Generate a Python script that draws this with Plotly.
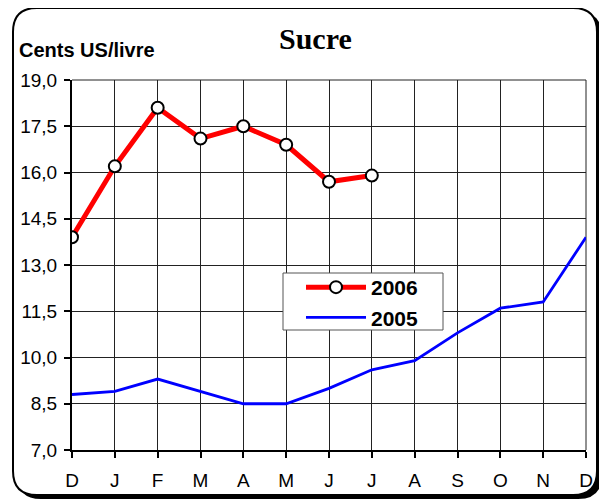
import plotly.graph_objects as go

months = ["D", "J", "F", "M", "A", "M", "J", "J", "A", "S", "O", "N", "D"]
s2006 = [13.9, 16.2, 18.1, 17.1, 17.5, 16.9, 15.7, 15.9]
s2005 = [8.8, 8.9, 9.3, 8.9, 8.5, 8.5, 9.0, 9.6, 9.9, 10.8, 11.6, 11.8, 13.9]
yticks = [7.0, 8.5, 10.0, 11.5, 13.0, 14.5, 16.0, 17.5, 19.0]

# page is offset by the default 8px body margin
OFF = 8
W, H = 607 - OFF, 501 - OFF
PL, PR, PT, PB = 72, 586, 80, 450  # plot-area edges in page pixels
L, R, T, B = PL - OFF, W - (PR - OFF), PT - OFF, H - (PB - OFF)
PW, PH = PR - PL, PB - PT

def px(x):
    return (x - PL) / PW

def py(y):
    return (PB - y) / PH

def rrect(x0, y0, x1, y1, r):
    pts = [
        f"M {px(x0 + r)} {py(y0)}",
        f"L {px(x1 - r)} {py(y0)}",
        f"Q {px(x1)} {py(y0)} {px(x1)} {py(y0 + r)}",
        f"L {px(x1)} {py(y1 - r)}",
        f"Q {px(x1)} {py(y1)} {px(x1 - r)} {py(y1)}",
        f"L {px(x0 + r)} {py(y1)}",
        f"Q {px(x0)} {py(y1)} {px(x0)} {py(y1 - r)}",
        f"L {px(x0)} {py(y0 + r)}",
        f"Q {px(x0)} {py(y0)} {px(x0 + r)} {py(y0)}",
        "Z",
    ]
    return " ".join(pts)

fig = go.Figure()
fig.add_trace(go.Scatter(
    x=list(range(len(s2006))), y=s2006, name="2006", mode="lines+markers",
    line=dict(color="#ff0000", width=5),
    marker=dict(symbol="circle", size=12, color="white", line=dict(color="black", width=2)),
))
fig.add_trace(go.Scatter(
    x=list(range(len(s2005))), y=s2005, name="2005", mode="lines",
    line=dict(color="#0000ff", width=2.8),
))

fig.update_layout(
    width=W, height=H,
    margin=dict(l=L, r=R, t=T, b=B, pad=0, autoexpand=False),
    paper_bgcolor="white",
    plot_bgcolor="rgba(0,0,0,0)",
    separators=",.",
    font=dict(family="Liberation Sans, Arial, sans-serif", size=19, color="black"),
    showlegend=True,
    legend=dict(
        x=px(301), y=py(267), xanchor="left", yanchor="top",
        bgcolor="rgba(0,0,0,0)", borderwidth=0,
        font=dict(family="Liberation Sans, Arial, sans-serif", size=21, color="black", weight="bold"),
        itemwidth=60, tracegroupgap=0,
    ),
    xaxis=dict(
        range=[0, 12], tickmode="array", tickvals=list(range(13)), ticktext=months,
        showgrid=True, gridcolor="#222222", gridwidth=1,
        showline=True, linecolor="black", linewidth=2,
        ticks="outside", ticklen=6, tickwidth=2, tickcolor="black",
        ticklabelstandoff=6, automargin=False,
        zeroline=False, fixedrange=True,
    ),
    yaxis=dict(
        range=[7, 19], tickmode="array", tickvals=yticks,
        tickformat=".1f",
        showgrid=True, gridcolor="#222222", gridwidth=1,
        showline=True, linecolor="black", linewidth=2,
        ticks="outside", ticklen=6, tickwidth=2, tickcolor="black",
        ticklabelstandoff=3, automargin=False,
        zeroline=False, fixedrange=True,
    ),
    shapes=[
        dict(type="path", xref="paper", yref="paper", layer="below",
             path=rrect(17, 12, 602, 499, 24), fillcolor="black", line=dict(width=0)),
        dict(type="path", xref="paper", yref="paper", layer="below",
             path=rrect(13, 8, 597, 495, 24), fillcolor="white", line=dict(color="black", width=2)),
        dict(type="line", xref="paper", yref="paper", layer="below",
             x0=1, x1=1, y0=0, y1=1, line=dict(color="#222222", width=1)),
        dict(type="line", xref="paper", yref="paper", layer="below",
             x0=0, x1=1, y0=1, y1=1, line=dict(color="#222222", width=1)),
        dict(type="rect", xref="paper", yref="paper", layer="above",
             x0=px(283), x1=px(443), y0=py(330), y1=py(273),
             fillcolor="white", line=dict(color="#555555", width=1)),
    ],
    annotations=[
        dict(text="<b>Sucre</b>", xref="paper", yref="paper", x=px(315), y=py(38),
             xanchor="center", yanchor="middle", showarrow=False,
             font=dict(family="Liberation Serif, Times New Roman, serif", size=30, color="black")),
        dict(text="<b>Cents US/livre</b>", xref="paper", yref="paper", x=px(17), y=py(50),
             xanchor="left", yanchor="middle", showarrow=False,
             font=dict(family="Liberation Sans, Arial, sans-serif", size=20, color="black")),
    ],
)

fig.write_html("out.html")
